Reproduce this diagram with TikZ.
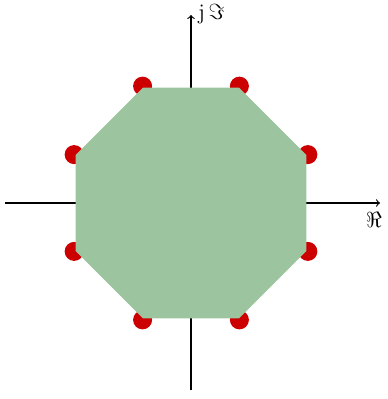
\documentclass[tikz,border=0pt]{standalone}
\usepackage{amsmath}
\usetikzlibrary{calc}
\definecolor{octgreen}{RGB}{156,197,159}
\definecolor{dotred}{RGB}{204,0,0}
\begin{document}
\begin{tikzpicture}[x=0.55pt,y=-0.55pt,
  axis/.style={line width=0.6pt,->},
  pole/.style={fill=dotred},
  region/.style={fill=octgreen},
  lbl/.style={inner sep=0pt,font=\large}]
\useasboundingbox (0,0) rectangle (388,399);
\coordinate (O) at (191,203);
\coordinate (xl) at (5,203);
\coordinate (xr) at (380,203);
\coordinate (yb) at (191,390);
\coordinate (yt) at (191,15);
\draw[axis] (xl) -- (xr);
\draw[axis] (yb) -- (yt);
\foreach \a in {22.5,67.5,...,337.5}
  \fill[pole] (O) ++(\a:126.5) circle[radius=9.5];
\fill[region] ($(O)+(22.5:125)$) \foreach \a in {67.5,112.5,...,337.5}{ -- ($(O)+(\a:125)$)} -- cycle;
\node[lbl,anchor=west] (lim) at (198,14) {$\mathrm{j}\,\Im$};
\node[lbl,anchor=north] (lre) at (374,212) {$\Re$};
\end{tikzpicture}
\end{document}
